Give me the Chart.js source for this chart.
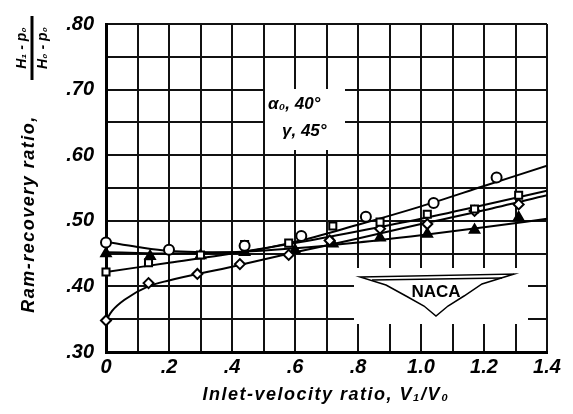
<!DOCTYPE html>
<html>
<head>
<meta charset="utf-8">
<script src="https://cdn.jsdelivr.net/npm/chart.js@4.4.1/dist/chart.umd.min.js"></script>
<style>
  html, body { margin: 0; padding: 0; background: #fff; }
  #wrap { width: 573px; height: 414px; }
</style>
</head>
<body>
<div id="wrap"><canvas id="myChart" width="573" height="414"></canvas></div>
<script>
var circleX = [0, 0.2, 0.44, 0.62, 0.825, 1.04, 1.24];
var circleY = [0.467, 0.456, 0.462, 0.477, 0.506, 0.527, 0.566];
var squareX = [0, 0.135, 0.3, 0.44, 0.58, 0.72, 0.87, 1.02, 1.17, 1.31];
var squareY = [0.422, 0.436, 0.448, 0.464, 0.466, 0.492, 0.498, 0.510, 0.518, 0.539];
var diamondX = [0, 0.135, 0.29, 0.425, 0.58, 0.71, 0.87, 1.02, 1.17, 1.31];
var diamondY = [0.348, 0.405, 0.419, 0.434, 0.448, 0.470, 0.488, 0.495, 0.515, 0.525];
var triangleX = [0, 0.14, 0.3, 0.44, 0.6, 0.72, 0.87, 1.02, 1.17, 1.31];
var triangleY = [0.450, 0.446, 0.447, 0.452, 0.455, 0.465, 0.474, 0.480, 0.486, 0.505];

// faired curves
var curveX = [0, 0.1, 0.2, 0.4, 0.6, 0.8, 1.0, 1.2, 1.4];
var circleCurve = [0.468, 0.460, 0.454, 0.452, 0.468, 0.494, 0.522, 0.553, 0.584];
var squareCurve = [0.422, 0.429, 0.436, 0.450, 0.466, 0.484, 0.503, 0.524, 0.546];
var triangleCurve = [0.452, 0.451, 0.450, 0.452, 0.458, 0.467, 0.478, 0.490, 0.503];
var diamondCurveX = [0, 0.02, 0.06, 0.134, 0.2, 0.4, 0.6, 0.8, 1.0, 1.2, 1.4];
var diamondCurve = [0.348, 0.363, 0.380, 0.400, 0.409, 0.430, 0.452, 0.473, 0.495, 0.516, 0.539];

var xLabels = {0: '0', 2: '.2', 4: '.4', 6: '.6', 8: '.8', 10: '1.0', 12: '1.2', 14: '1.4'};
var yLabels = {30: '.30', 40: '.40', 50: '.50', 60: '.60', 70: '.70', 80: '.80'};

function pts(xs, ys) {
  return xs.map(function (x, i) { return {x: x, y: ys[i]}; });
}

var FONT = 'Liberation Sans';

function markSet(xs, ys, style, fill) {
  return {
    type: 'scatter',
    data: pts(xs, ys),
    showLine: false,
    clip: false,
    pointStyle: style,
    pointRadius: style === 'triangle' ? 5.5 : 5,
    pointBorderWidth: 2,
    pointBorderColor: '#000',
    pointBackgroundColor: fill,
    order: 1
  };
}

function curveSet(xs, ys) {
  return {
    type: 'line',
    data: pts(xs, ys),
    borderColor: '#000',
    borderWidth: 2,
    pointRadius: 0,
    fill: false,
    cubicInterpolationMode: 'monotone',
    order: 2
  };
}

var paper = {
  id: 'paper',
  beforeDraw: function (chart) {
    var c = chart.ctx;
    c.save();
    c.fillStyle = '#fff';
    c.fillRect(0, 0, chart.width, chart.height);
    c.restore();
  },
  beforeDatasetsDraw: function (chart) {
    var c = chart.ctx;
    c.save();
    c.fillStyle = '#fff';
    c.fillRect(265, 89, 80, 61);
    c.fillRect(354, 268, 174, 56);
    c.restore();
  },
  afterDraw: function (chart) {
    var c = chart.ctx;
    c.save();
    c.fillStyle = '#000';
    c.strokeStyle = '#000';

    // y title, rotated
    c.save();
    c.translate(29, 214);
    c.rotate(-Math.PI / 2);
    c.font = 'italic bold 18px "' + FONT + '"';
    c.letterSpacing = '1.5px';
    c.textAlign = 'center';
    c.textBaseline = 'middle';
    c.fillText('Ram-recovery ratio,', 0, 0);
    c.restore();

    // fraction H1-p0 / H0-p0, rotated
    c.save();
    c.translate(32, 48);
    c.rotate(-Math.PI / 2);
    c.font = 'italic bold 14px "' + FONT + '"';
    c.textAlign = 'center';
    c.textBaseline = 'middle';
    c.fillText('H\u2081 - p\u2080', 0, -10);
    c.fillText('H\u2080 - p\u2080', 0, 11);
    c.lineWidth = 3;
    c.beginPath();
    c.moveTo(-32, 0);
    c.lineTo(32, 0);
    c.stroke();
    c.restore();

    // x title
    c.save();
    c.font = 'italic bold 18px "' + FONT + '"';
    c.letterSpacing = '1.5px';
    c.textAlign = 'center';
    c.textBaseline = 'middle';
    c.fillText('Inlet-velocity ratio, V\u2081/V\u2080', 326, 395);
    c.restore();

    // annotation
    c.font = 'italic bold 17px "' + FONT + '"';
    c.textAlign = 'left';
    c.textBaseline = 'middle';
    c.fillText('\u03b1\u2080, 40\u00b0', 268, 104);
    c.fillText('\u03b3, 45\u00b0', 282, 131);

    // NACA wings
    c.lineWidth = 1.5;
    c.beginPath();
    c.moveTo(360, 277);
    c.lineTo(514, 274);
    c.lineTo(482, 284);
    c.lineTo(464, 296);
    c.lineTo(448, 306);
    c.lineTo(436, 316);
    c.lineTo(424, 306);
    c.lineTo(406, 296);
    c.lineTo(386, 285);
    c.closePath();
    c.stroke();
    c.beginPath();
    c.moveTo(372, 280);
    c.lineTo(502, 278);
    c.stroke();
    c.font = 'bold 17px "' + FONT + '"';
    c.textAlign = 'center';
    c.fillText('NACA', 436, 292);
    c.restore();
  }
};

var ctx = document.getElementById('myChart').getContext('2d');
var myChart = new Chart(ctx, {
  data: {
    datasets: [
      curveSet(curveX, circleCurve),
      curveSet(curveX, squareCurve),
      curveSet(diamondCurveX, diamondCurve),
      curveSet(curveX, triangleCurve),
      markSet(circleX, circleY, 'circle', '#fff'),
      markSet(squareX, squareY, 'rect', '#fff'),
      markSet(diamondX, diamondY, 'rectRot', '#fff'),
      markSet(triangleX, triangleY, 'triangle', '#000')
    ]
  },
  plugins: [paper],
  options: {
    responsive: false,
    animation: false,
    layout: { padding: { left: 0, right: 26, top: 19, bottom: 0 } },
    plugins: {
      legend: { display: false },
      tooltip: { enabled: false }
    },
    scales: {
      x: {
        type: 'linear',
        min: 0,
        max: 1.4,
        afterFit: function (s) { s.height = 62; },
        grid: { color: '#111', lineWidth: 2, drawTicks: false },
        border: { color: '#000', width: 3 },
        ticks: {
          stepSize: 0.1,
          padding: 3,
          color: '#000',
          maxRotation: 0,
          autoSkip: false,
          font: { family: FONT, size: 20, style: 'italic', weight: 'bold' },
          callback: function (v) { var k = Math.round(v * 10); return xLabels[k] !== undefined ? xLabels[k] : ''; }
        }
      },
      y: {
        type: 'linear',
        min: 0.30,
        max: 0.80,
        afterFit: function (s) { s.width = 106; },
        grid: { color: '#111', lineWidth: 2, drawTicks: false },
        border: { color: '#000', width: 3 },
        ticks: {
          stepSize: 0.05,
          padding: 12,
          color: '#000',
          autoSkip: false,
          font: { family: FONT, size: 20, style: 'italic', weight: 'bold' },
          callback: function (v) { var k = Math.round(v * 100); return yLabels[k] !== undefined ? yLabels[k] : ''; }
        }
      }
    }
  }
});
</script>
</body>
</html>
